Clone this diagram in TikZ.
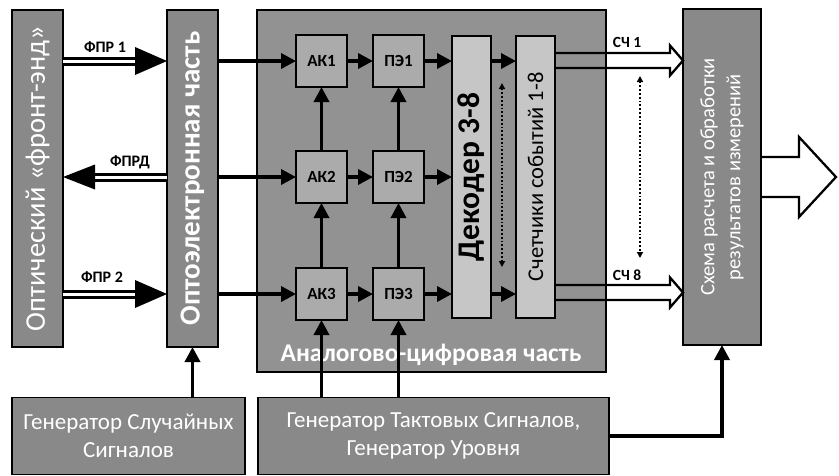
\documentclass[tikz,border=0pt]{standalone}
\usepackage{fontspec}
\setmainfont{Carlito}
\usetikzlibrary{arrows.meta,calc}
\definecolor{boxgray}{HTML}{898989}
\definecolor{adcgray}{HTML}{929292}
\definecolor{midgray}{HTML}{ABABAB}
\definecolor{lightgray2}{HTML}{C6C6C6}
\begin{document}
\begin{tikzpicture}[x=1pt,y=-1pt,
  box/.style={draw=black, line width=1.3pt, inner sep=0pt, outer sep=0pt},
  gbox/.style={box, fill=boxgray, text=white},
  sbox/.style={box, fill=midgray, minimum width=51pt, minimum height=52pt, font=\fontsize{17}{19}\selectfont\bfseries},
  lbox/.style={box, fill=lightgray2, minimum width=39pt, minimum height=282pt},
  arr/.style={line width=3.5pt, -{Triangle[length=15pt,width=15pt]}},
  dbl/.style={line width=3pt, double=white, double distance=3pt},
  hol/.style={line width=2.3pt, line join=miter},
  dots/.style={line width=1.8pt, dotted, {Triangle[length=6pt,width=6pt]}-{Triangle[length=6pt,width=6pt]}},
  lab/.style={font=\fontsize{16}{18}\selectfont\bfseries, inner sep=1pt},
  vtext/.style={rotate=90, text=white, inner sep=0pt}
]
\useasboundingbox (0,0) rectangle (839,475);
\coordinate (r1) at (0,61);
\coordinate (r2) at (0,177);
\coordinate (r3) at (0,294);

% main blocks
\node[gbox, minimum width=51pt, minimum height=337pt] (front) at (37.5,178.5) {};
\node[vtext, font=\fontsize{28.5}{30}\selectfont] (frontlab) at (front.center) {Оптический «фронт-энд»};
\node[gbox, minimum width=51pt, minimum height=337pt] (opto) at (192.5,178.5) {};
\node[vtext, font=\fontsize{29}{31}\selectfont\bfseries] (optolab) at (opto.center) {Оптоэлектронная часть};
\node[gbox, fill=adcgray, minimum width=349pt, minimum height=362pt] (adc) at (431.5,191) {};
\node[text=white, font=\fontsize{25.5}{27}\selectfont\bfseries] (adclab) at (431,355) {Аналогово-цифровая часть};
\node[gbox, minimum width=78pt, minimum height=336pt] (res) at (722,177) {};
\node[vtext, align=center, font=\fontsize{20.5}{26}\selectfont] (reslab) at (res.center) {Схема расчета и обработки\\результатов измерений};
\node[gbox, minimum width=233pt, minimum height=77pt, align=center, font=\fontsize{23}{28}\selectfont] (gen1) at (128.5,436) {Генератор Случайных\\Сигналов};
\node[gbox, minimum width=351pt, minimum height=77pt, align=center, font=\fontsize{23}{28}\selectfont] (gen2) at (433.5,436) {Генератор Тактовых Сигналов,\\Генератор Уровня};

% inner blocks
\node[sbox] (ak1) at (321.5,61) {АК1};
\node[sbox] (ak2) at (321.5,177) {АК2};
\node[sbox] (ak3) at (321.5,294) {АК3};
\node[sbox] (pe1) at (398.5,61) {ПЭ1};
\node[sbox] (pe2) at (398.5,177) {ПЭ2};
\node[sbox] (pe3) at (398.5,294) {ПЭ3};
\node[lbox] (dec) at (471.5,177) {};
\node[rotate=90, font=\fontsize{31.5}{33}\selectfont\bfseries] (declab) at (dec.center) {Декодер 3-8};
\node[lbox] (cnt) at (535.5,177) {};
\node[rotate=90, font=\fontsize{22.5}{24}\selectfont] (cntlab) at (cnt.center) {Счетчики событий 1-8};

% front-end double arrows
\draw[dbl] (front.east |- r1) -- ($(opto.west |- r1)+(-32,0)$);
\fill ($(opto.west |- r1)+(-32,-14)$) -- (opto.west |- r1) -- ($(opto.west |- r1)+(-32,14)$) -- cycle;
\node[lab] (fpr1) at (105,47) {ФПР 1};
\draw[dbl] (opto.west |- r2) -- ($(front.east |- r2)+(32,0)$);
\fill ($(front.east |- r2)+(32,-12.5)$) -- (front.east |- r2) -- ($(front.east |- r2)+(32,12.5)$) -- cycle;
\node[lab] (fprd) at (130,162) {ФПРД};
\draw[dbl] (front.east |- r3) -- ($(opto.west |- r3)+(-32,0)$);
\fill ($(opto.west |- r3)+(-32,-14)$) -- (opto.west |- r3) -- ($(opto.west |- r3)+(-32,14)$) -- cycle;
\node[lab] (fpr2) at (102,277) {ФПР 2};

% signal arrows
\draw[arr] (opto.east |- ak1) -- (ak1.west);
\draw[arr] (opto.east |- ak2) -- (ak2.west);
\draw[arr] (opto.east |- ak3) -- (ak3.west);
\draw[arr] (ak1) -- (pe1);
\draw[arr] (ak2) -- (pe2);
\draw[arr] (ak3) -- (pe3);
\draw[arr] (pe1.east) -- (dec.west |- pe1);
\draw[arr] (pe2.east) -- (dec.west |- pe2);
\draw[arr] (pe3.east) -- (dec.west |- pe3);
\draw[arr] (dec.east |- pe1) -- (cnt.west |- pe1);
\draw[arr] (dec.east |- pe3) -- (cnt.west |- pe3);
\draw[arr] (ak3.north) -- (ak2.south);
\draw[arr] (ak2.north) -- (ak1.south);
\draw[arr] (pe3.north) -- (pe2.south);
\draw[arr] (pe2.north) -- (pe1.south);
\draw[arr] (ak3.south |- gen2.north) -- (ak3.south);
\draw[arr] (pe3.south |- gen2.north) -- (pe3.south);
\draw[arr] (opto.south |- gen1.north) -- (opto.south);
\draw[arr] (gen2.east) -| (res.south);

% dotted arrows
\coordinate (da1) at (502,83);
\coordinate (da2) at (502,267);
\draw[dots] (da1) -- (da2);
\coordinate (db1) at (640,76);
\coordinate (db2) at (640,258);
\draw[dots] (db1) -- (db2);

% hollow counter arrows
\coordinate (c1) at (0,60.5);
\coordinate (c8) at (0,292.5);
\draw[hol] ($(cnt.east|-c1)+(0,-7.5)$) -- ($(res.west|-c1)+(-13,-7.5)$) -- ($(res.west|-c1)+(-13,-15)$) -- (res.west|-c1) -- ($(res.west|-c1)+(-13,15)$) -- ($(res.west|-c1)+(-13,7.5)$) -- ($(cnt.east|-c1)+(0,7.5)$);
\draw[hol] ($(cnt.east|-c8)+(0,-7.5)$) -- ($(res.west|-c8)+(-13,-7.5)$) -- ($(res.west|-c8)+(-13,-15)$) -- (res.west|-c8) -- ($(res.west|-c8)+(-13,15)$) -- ($(res.west|-c8)+(-13,7.5)$) -- ($(cnt.east|-c8)+(0,7.5)$);
\node[lab, font=\fontsize{15.5}{17}\selectfont\bfseries] (sc1) at (627,42) {СЧ 1};
\node[lab, font=\fontsize{15.5}{17}\selectfont\bfseries] (sc8) at (627,275) {СЧ 8};

% output arrow
\draw[hol] ($(res.east)+(0,-20)$) -- ($(res.east)+(38,-20)$) -- ($(res.east)+(38,-40)$) -- ($(res.east)+(75,0)$) -- ($(res.east)+(38,40)$) -- ($(res.east)+(38,20)$) -- ($(res.east)+(0,20)$);
\end{tikzpicture}
\end{document}
